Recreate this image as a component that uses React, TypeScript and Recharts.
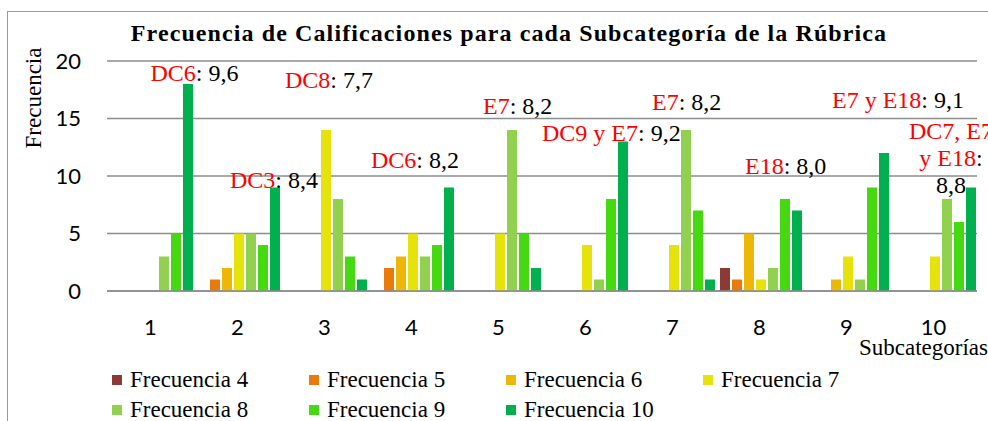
import React from "react";
import {
  BarChart,
  Bar,
  XAxis,
  YAxis,
  CartesianGrid,
  Legend,
  ReferenceDot,
} from "recharts";

const categories = ["1", "2", "3", "4", "5", "6", "7", "8", "9", "10"];
const freq4 = [0, 0, 0, 0, 0, 0, 0, 2, 0, 0];
const freq5 = [0, 1, 0, 2, 0, 0, 0, 1, 0, 0];
const freq6 = [0, 2, 0, 3, 0, 0, 0, 5, 1, 0];
const freq7 = [0, 5, 14, 5, 5, 4, 4, 1, 3, 3];
const freq8 = [3, 5, 8, 3, 14, 1, 14, 2, 1, 8];
const freq9 = [5, 4, 3, 4, 5, 8, 7, 8, 9, 6];
const freq10 = [18, 9, 1, 9, 2, 13, 1, 7, 12, 9];

const seriesNames = [
  "Frecuencia 4",
  "Frecuencia 5",
  "Frecuencia 6",
  "Frecuencia 7",
  "Frecuencia 8",
  "Frecuencia 9",
  "Frecuencia 10",
];
const seriesValues = [freq4, freq5, freq6, freq7, freq8, freq9, freq10];
const seriesColors = [
  "#8B3A36",
  "#E97A0B",
  "#EDB70A",
  "#E6E30C",
  "#92D050",
  "#45D912",
  "#00B04F",
];

const yTicks = [0, 5, 10, 15, 20];

const annotationCategories = ["1", "2", "3", "4", "5", "6", "7", "8", "9", "10"];
const annotationCodes = [
  "DC6",
  "DC3",
  "DC8",
  "DC6",
  "E7",
  "DC9 y E7",
  "E7",
  "E18",
  "E7 y E18",
  "DC7, E7 y E18",
];
const annotationValues = ["9,6", "8,4", "7,7", "8,2", "8,2", "9,2", "8,2", "8,0", "9,1", "8,8"];

// placement of annotation text (anchor height in axis units, horizontal shift in px)
const annotationAnchorY = [19.0, 9.65, 18.35, 11.4, 16.1, 13.75, 16.45, 10.85, 16.6, 13.9];
const annotationShift = [0, -7.5, -39.5, -40.5, -15.5, -43.5, -20.5, -14.5, -14.5, 17.5];
const annotationWrapped = [false, false, false, false, false, false, false, false, false, true];

const data = categories.map((c, i) => {
  const row: any = { name: c };
  seriesNames.forEach((s, k) => {
    row[s] = seriesValues[k][i];
  });
  return row;
});

const SERIF = "'Liberation Serif', 'Times New Roman', serif";
const SANS = "Lato, 'Liberation Sans', sans-serif";
const RED = "#FF0000";

function renderAnnotation(cx: number, cy: number, i: number) {
  const code = annotationCodes[i];
  const value = annotationValues[i];
  const x = cx + annotationShift[i];
  if (annotationWrapped[i]) {
    const parts = code.split(" y ");
    const lh = 27;
    return (
      <g>
        <text x={x} y={cy} textAnchor="middle" dominantBaseline="central" fontFamily={SERIF} fontSize={24} fill={RED}>
          {parts[0]}
        </text>
        <text x={x} y={cy + lh} textAnchor="middle" dominantBaseline="central" fontFamily={SERIF} fontSize={24}>
          <tspan fill={RED}>{"y " + parts[1]}</tspan>
          <tspan fill="#000">:</tspan>
        </text>
        <text x={x} y={cy + 2 * lh} textAnchor="middle" dominantBaseline="central" fontFamily={SERIF} fontSize={24} fill="#000">
          {value}
        </text>
      </g>
    );
  }
  return (
    <text x={x} y={cy} dominantBaseline="central" fontFamily={SERIF} fontSize={24}>
      <tspan fill={RED}>{code}</tspan>
      <tspan fill="#000">{": " + value}</tspan>
    </text>
  );
}

const renderLegend = (props: any) => {
  const payload = [...(props.payload || [])].sort(
    (a: any, b: any) => seriesNames.indexOf(a.value) - seriesNames.indexOf(b.value)
  );
  return (
    <div style={{ display: "flex", flexWrap: "wrap", width: 800 }}>
      {payload.map((p: any) => (
        <div
          key={p.value}
          style={{
            width: 197,
            height: 30,
            display: "flex",
            alignItems: "center",
            fontFamily: SERIF,
            fontSize: 23,
            color: "#000",
            whiteSpace: "nowrap",
          }}
        >
          <span style={{ display: "inline-block", width: 10, height: 10, background: p.color, marginRight: 8 }} />
          {p.value}
        </div>
      ))}
    </div>
  );
};

export default function App() {
  return (
    <div
      style={{
        position: "absolute",
        left: 0,
        top: 0,
        width: 988,
        height: 421,
        overflow: "hidden",
        background: "#fff",
      }}
    >
      <div
        style={{
          position: "absolute",
          left: 7,
          top: 11,
          width: 1100,
          height: 600,
          border: "1.5px solid #9a9a9a",
          boxSizing: "border-box",
        }}
      />
      <div
        style={{
          position: "absolute",
          left: 0,
          top: 19,
          width: 1018,
          textAlign: "center",
          fontFamily: SERIF,
          fontWeight: "bold",
          fontSize: 24,
          letterSpacing: 1.1,
          lineHeight: "28px",
          color: "#000",
          whiteSpace: "nowrap",
        }}
      >
        Frecuencia de Calificaciones para cada Subcategoría de la Rúbrica
      </div>
      <div style={{ position: "absolute", left: 0, top: 0 }}>
        <BarChart
          width={988}
          height={421}
          data={data}
          margin={{ top: 61, right: 11, bottom: 100, left: 0 }}
          barCategoryGap={4}
          barGap={2}
        >
          <CartesianGrid vertical={false} stroke="#8c8c8c" strokeWidth={1.5} />
          <XAxis
            dataKey="name"
            height={30}
            axisLine={{ stroke: "#8c8c8c", strokeWidth: 1.5 }}
            tickLine={false}
            tickMargin={22}
            tick={{ fontFamily: SANS, fontSize: 22, fill: "#000" }}
            interval={0}
            label={{
              content: () => (
                <text x={988} y={347} textAnchor="end" dominantBaseline="central" fontFamily={SERIF} fontSize={23} fill="#000">
                  Subcategorías
                </text>
              ),
            }}
          />
          <YAxis
            width={107}
            domain={[0, 20]}
            ticks={yTicks}
            axisLine={false}
            tickLine={false}
            tickMargin={20}
            tick={{ fontFamily: SANS, fontSize: 22, fill: "#000" }}
            label={{
              content: () => (
                <text
                  x={33}
                  y={98}
                  transform="rotate(-90, 33, 98)"
                  textAnchor="middle"
                  dominantBaseline="central"
                  fontFamily={SERIF}
                  fontSize={23}
                  fill="#000"
                >
                  Frecuencia
                </text>
              ),
            }}
          />
          <Legend
            layout="horizontal"
            verticalAlign="middle"
            align="center"
            wrapperStyle={{ left: 112, top: 365, width: 800 }}
            content={renderLegend}
          />
          {seriesNames.map((s, k) => (
            <Bar key={s} dataKey={s} fill={seriesColors[k]} isAnimationActive={false} />
          ))}
          {annotationCategories.map((c, i) => (
            <ReferenceDot
              key={"ann" + i}
              x={c}
              y={annotationAnchorY[i]}
              r={0}
              ifOverflow="visible"
              shape={(p: any) => renderAnnotation(p.cx, p.cy, i)}
            />
          ))}
        </BarChart>
      </div>
    </div>
  );
}
